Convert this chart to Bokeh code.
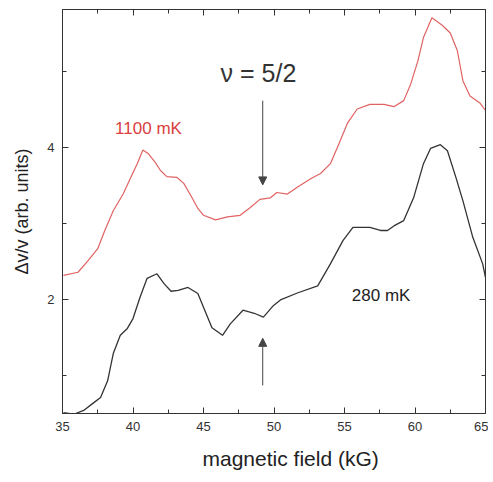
from bokeh.plotting import figure
from bokeh.models import Range1d, FixedTicker, LinearAxis, Arrow, NormalHead, Title
from bokeh.core.properties import value
from bokeh.embed import file_html
from bokeh.resources import INLINE

# 1100 mK trace
red_x = [35.07, 36.1, 36.8, 37.5, 38.0, 38.6, 39.3, 39.8, 40.3, 40.7, 41.1, 41.6, 41.95, 42.4,
         43.1, 43.6, 44.1, 44.6, 45.0, 45.85, 46.7, 47.6, 48.3, 49.0, 49.75, 50.2, 50.95,
         51.65, 52.6, 53.3, 54.0, 54.6, 55.2, 55.9, 56.8, 57.8, 58.5, 59.2, 59.7, 60.2, 60.6,
         61.2, 61.95, 62.5, 63.0, 63.4, 63.9, 64.6, 65.0]
red_y = [2.32, 2.36, 2.51, 2.67, 2.91, 3.17, 3.39, 3.59, 3.79, 3.97, 3.92, 3.80, 3.70, 3.62,
         3.61, 3.53, 3.37, 3.20, 3.11, 3.05, 3.09, 3.11, 3.21, 3.32, 3.34, 3.41, 3.39,
         3.48, 3.59, 3.66, 3.79, 4.05, 4.32, 4.51, 4.57, 4.57, 4.54, 4.62, 4.84, 5.14, 5.45,
         5.71, 5.61, 5.51, 5.28, 4.88, 4.68, 4.59, 4.49]

# 280 mK trace
blk_x = [35.07, 35.8, 36.5, 37.2, 37.7, 38.2, 38.6, 39.1, 39.6, 40.0, 40.5, 41.0, 41.7, 42.2,
         42.7, 43.2, 43.9, 44.6, 45.0, 45.6, 46.35, 46.9, 47.8, 48.6, 49.25, 49.95, 50.5,
         51.7, 53.1, 54.0, 54.9, 55.6, 56.8, 57.55, 58.05, 58.5, 59.2, 59.9, 60.6, 61.1, 61.8,
         62.3, 62.9, 63.4, 64.1, 64.8, 65.0]
blk_y = [0.51, 0.49, 0.54, 0.64, 0.71, 0.93, 1.29, 1.53, 1.62, 1.75, 2.03, 2.28, 2.34, 2.21,
         2.11, 2.12, 2.16, 2.08, 1.90, 1.63, 1.53, 1.68, 1.86, 1.82, 1.77, 1.92, 2.00,
         2.09, 2.18, 2.47, 2.78, 2.95, 2.95, 2.91, 2.91, 2.97, 3.04, 3.34, 3.79, 3.99, 4.04,
         3.96, 3.61, 3.30, 2.82, 2.47, 2.29]

x_major = [35, 40, 45, 50, 55, 60, 65]
x_minor = [37.5, 42.5, 47.5, 52.5, 57.5, 62.5]
y_major = [2, 4]
y_minor = [1, 3, 5]

FONT = "Liberation Sans"
AX = "#333333"

p = figure(width=488, height=480, output_backend="svg", toolbar_location=None,
           x_range=Range1d(35, 65), y_range=Range1d(0.5, 5.82),
           min_border_left=62, min_border_right=3, min_border_top=9, min_border_bottom=0)
p.grid.visible = False
p.outline_line_color = AX

xt = FixedTicker(ticks=x_major, minor_ticks=x_minor)
yt = FixedTicker(ticks=y_major, minor_ticks=y_minor)
p.xaxis.ticker = xt
p.yaxis.ticker = yt

for ax in [p.xaxis[0], p.yaxis[0]]:
    ax.major_tick_in = 6
    ax.major_tick_out = 0
    ax.minor_tick_in = 4
    ax.minor_tick_out = 0
    ax.axis_line_color = AX
    ax.major_tick_line_color = AX
    ax.minor_tick_line_color = AX
    ax.major_label_text_font = FONT
    ax.major_label_text_font_size = "13px"
    ax.major_label_text_color = "#333333"
    ax.axis_label_text_font = FONT
    ax.axis_label_text_font_style = "normal"
    ax.axis_label_text_color = "#222222"

p.xaxis.major_label_standoff = 8
p.yaxis.axis_label = "Δv/v (arb. units)"
p.yaxis.axis_label_text_font_size = "18px"
p.yaxis.major_label_standoff = 8
p.yaxis.axis_label_standoff = 12
p.yaxis.major_label_orientation = "horizontal"

p.add_layout(Title(text="magnetic field (kG)", align="left", offset=140, standoff=22,
                   text_font=FONT, text_font_size="21px", text_font_style="normal",
                   text_color="#222222"), "below")

for loc, tk, ticks in [("above", xt, x_major), ("right", yt, y_major)]:
    a = LinearAxis(ticker=tk, major_label_overrides={t: "" for t in ticks},
                   major_label_standoff=0,
                   major_tick_in=6, major_tick_out=0, minor_tick_in=4, minor_tick_out=0,
                   axis_line_color=AX, major_tick_line_color=AX, minor_tick_line_color=AX)
    p.add_layout(a, loc)

p.line(red_x, red_y, line_color="#e06262", line_width=1.2)
p.line(blk_x, blk_y, line_color="#333333", line_width=1.3)

p.add_layout(Arrow(x_start=49.2, y_start=4.62, x_end=49.2, y_end=3.51,
                   line_color="#444444", line_width=1,
                   end=NormalHead(size=8, fill_color="#444444", line_color="#444444")))
p.add_layout(Arrow(x_start=49.2, y_start=0.87, x_end=49.2, y_end=1.49,
                   line_color="#444444", line_width=1,
                   end=NormalHead(size=8, fill_color="#444444", line_color="#444444")))

p.text(x=[48.9], y=[4.99], text=["ν = 5/2"], text_font=value(FONT), text_font_size="25px",
       text_color="#333333", text_align="center", text_baseline="middle")
p.text(x=[41.1], y=[4.25], text=["1100 mK"], text_font=value(FONT), text_font_size="17px",
       text_color="#d94040", text_align="center", text_baseline="middle")
p.text(x=[57.6], y=[2.05], text=["280 mK"], text_font=value(FONT), text_font_size="17px",
       text_color="#222222", text_align="center", text_baseline="middle")

open("out.html", "w").write(file_html(p, INLINE))
